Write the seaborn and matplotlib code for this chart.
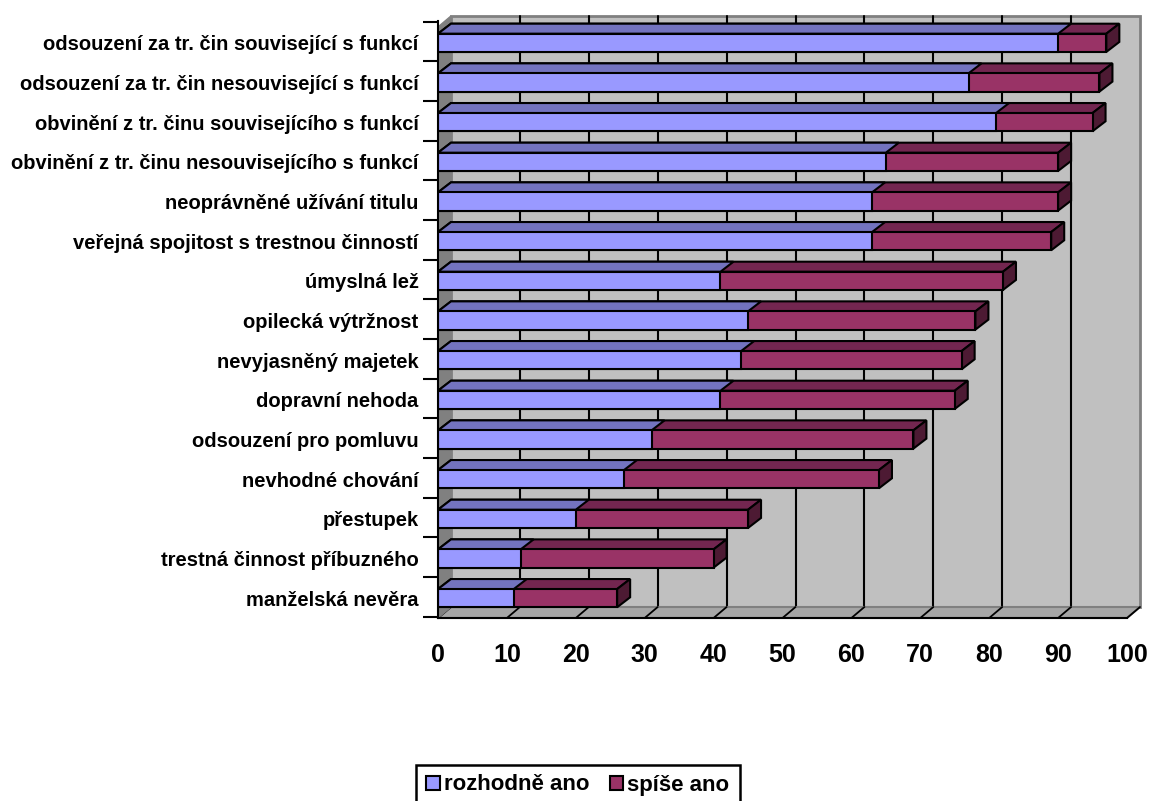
import numpy as np
import pandas as pd
import matplotlib
matplotlib.use('Agg')
import matplotlib.pyplot as plt
import seaborn as sns
from matplotlib.patches import Polygon, Rectangle

categories = [
    "odsouzení za tr. čin související s funkcí",
    "odsouzení za tr. čin nesouvisející s funkcí",
    "obvinění z tr. činu souvisejícího s funkcí",
    "obvinění z tr. činu nesouvisejícího s funkcí",
    "neoprávněné užívání titulu",
    "veřejná spojitost s trestnou činností",
    "úmyslná lež",
    "opilecká výtržnost",
    "nevyjasněný majetek",
    "dopravní nehoda",
    "odsouzení pro pomluvu",
    "nevhodné chování",
    "přestupek",
    "trestná činnost příbuzného",
    "manželská nevěra",
]
rozhodne_ano = [90, 77, 81, 65, 63, 63, 41, 45, 44, 41, 31, 27, 20, 12, 11]
spise_ano = [7, 19, 14, 25, 27, 26, 41, 33, 32, 34, 38, 37, 25, 28, 15]
series_names = ["rozhodně ano", "spíše ano"]
xticks = list(range(0, 101, 10))

BLUE, BLUE_TOP = "#9999FF", "#7373BF"
MAROON, MAROON_TOP, MAROON_SIDE = "#993366", "#732650", "#4D1A33"
WALL, SIDE_WALL, FLOOR = "#C0C0C0", "#808080", "#A6A6A6"

sns.set_theme(style="white")
plt.rcParams['font.family'] = ['Liberation Sans', 'DejaVu Sans']
plt.rcParams['font.weight'] = 'bold'
for k in ['text.color', 'axes.labelcolor', 'xtick.color', 'ytick.color']:
    plt.rcParams[k] = 'black'

df = pd.DataFrame({"cat": categories, "a": rozhodne_ano, "b": spise_ano})
df["total"] = df["a"] + df["b"]

fig = plt.figure(figsize=(11.5, 8.01), dpi=100)
ax = fig.add_axes([438 / 1150, (801 - 618) / 801, 689 / 1150, (618 - 21) / 801])

bar_h = 0.46
sns.barplot(data=df, x="total", y="cat", orient="h", color=MAROON, saturation=1,
            width=bar_h, edgecolor="black", linewidth=1.5, ax=ax, zorder=3)
sns.barplot(data=df, x="a", y="cat", orient="h", color=BLUE, saturation=1,
            width=bar_h, edgecolor="black", linewidth=1.5, ax=ax, zorder=5)

ytop, ybot = -0.55, 14.5
front_top = -0.40
ax.set_xlim(0, 100)
ax.set_ylim(ybot, ytop)

# depth offsets (data units)
px_x = 100 / 689
px_y = (ybot - ytop) / (618 - 21)
wdx, wdy = 13 * px_x, -11 * px_y
bdx, bdy = 13 * px_x, -10 * px_y

# back wall
wall = Polygon([(wdx, front_top + wdy), (100 + wdx, front_top + wdy),
                (100 + wdx, ybot + wdy), (wdx, ybot + wdy)], closed=True,
               facecolor=WALL, edgecolor=SIDE_WALL, lw=2, zorder=0, clip_on=False)
ax.add_patch(wall)
for t in xticks[1:-1]:
    ax.plot([t + wdx, t + wdx], [front_top + wdy, ybot + wdy], color="black", lw=1.5,
            zorder=0.5, clip_on=False)
# floor
floor = Polygon([(0, ybot), (100, ybot), (100 + wdx, ybot + wdy), (wdx, ybot + wdy)],
                closed=True, facecolor=FLOOR, edgecolor=SIDE_WALL, lw=1.5, zorder=0.6,
                clip_on=False)
ax.add_patch(floor)
for t in xticks:
    ax.plot([t, t + wdx], [ybot, ybot + wdy], color="black", lw=1.3, zorder=0.7, clip_on=False)
# side wall
side = Polygon([(0, front_top), (wdx, front_top + wdy), (wdx, ybot + wdy), (0, ybot)],
               closed=True, facecolor=SIDE_WALL, edgecolor=SIDE_WALL, lw=1, zorder=0.8,
               clip_on=False)
ax.add_patch(side)

# 3D faces of bars
patches = list(ax.patches)
bars_m = [p for p in patches if isinstance(p, Rectangle) and p.get_facecolor()[:3] == matplotlib.colors.to_rgb(MAROON)]
bars_b = [p for p in patches if isinstance(p, Rectangle) and p.get_facecolor()[:3] == matplotlib.colors.to_rgb(BLUE)]

def add_faces(p, top_col, side_col, z, side_face=True):
    x0, y0 = p.get_x(), p.get_y()
    w, h = p.get_width(), p.get_height()
    yt = min(y0, y0 + h)
    yb = max(y0, y0 + h)
    top = Polygon([(x0, yt), (x0 + w, yt), (x0 + w + bdx, yt + bdy), (x0 + bdx, yt + bdy)],
                  closed=True, facecolor=top_col, edgecolor="black", lw=1.5, zorder=z,
                  clip_on=False)
    ax.add_patch(top)
    if side_face:
        sd = Polygon([(x0 + w, yt), (x0 + w + bdx, yt + bdy), (x0 + w + bdx, yb + bdy), (x0 + w, yb)],
                     closed=True, facecolor=side_col, edgecolor="black", lw=1.5, zorder=z,
                     clip_on=False)
        ax.add_patch(sd)

for p in bars_m:
    add_faces(p, MAROON_TOP, MAROON_SIDE, 2.5)
for p in bars_b:
    add_faces(p, BLUE_TOP, BLUE_TOP, 4.5, side_face=False)

# axes styling
ax.set_facecolor("none")
for s in ["top", "right"]:
    ax.spines[s].set_visible(False)
for s in ["left", "bottom"]:
    ax.spines[s].set_color("black")
    ax.spines[s].set_linewidth(1.5)
    ax.spines[s].set_zorder(6)
ax.set_xticks(xticks)
ax.set_xticklabels([str(t) for t in xticks], fontsize=18, fontweight="bold")
ax.tick_params(axis="x", direction="out", length=11, width=1.5, color="black", pad=7)
ax.set_yticks(range(len(categories)))
ax.set_yticklabels(categories, fontsize=14.5, fontweight="bold")
ax.tick_params(axis="y", which="major", length=0, pad=14)
ax.set_yticks([i - 0.53 for i in range(len(categories) + 1)], minor=True)
ax.tick_params(axis="y", which="minor", direction="out", length=10.5, width=1.5, color="black", left=True)
ax.set_xlabel("")
ax.set_ylabel("")

handles = [Rectangle((0, 0), 1, 1, facecolor=BLUE, edgecolor="black", lw=1.5),
           Rectangle((0, 0), 1, 1, facecolor=MAROON, edgecolor="black", lw=1.5)]
leg = fig.legend(handles, series_names, loc="center", bbox_to_anchor=(578 / 1150, 16 / 801),
                 ncol=2, frameon=True, fancybox=False, framealpha=1, edgecolor="black",
                 prop={"size": 16, "weight": "bold"}, handlelength=0.6, handleheight=0.6,
                 handletextpad=0.2, columnspacing=0.9, borderpad=0.45, borderaxespad=0)
leg.get_frame().set_linewidth(1.8)

fig.savefig("out.png", dpi=100)
